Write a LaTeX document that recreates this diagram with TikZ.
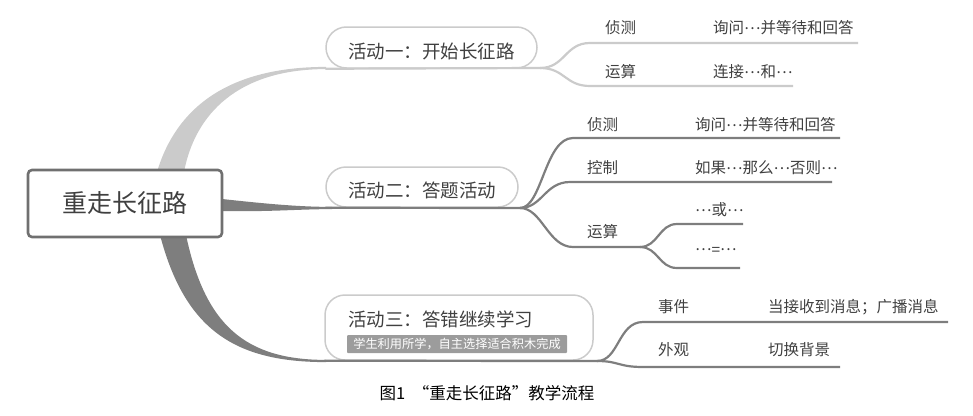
\documentclass[tikz,border=0pt]{standalone}
\usepackage{fontspec}
\setmainfont{Noto Sans CJK SC}
\usetikzlibrary{calc}

\definecolor{txt}{HTML}{404040}
\definecolor{lite}{HTML}{CBCBCB}
\definecolor{dark}{HTML}{7E7E7E}
\definecolor{rootc}{HTML}{707070}
\definecolor{tagc}{HTML}{9C9C9C}

\newcommand\midell{\raisebox{0.3em}{…}}

\tikzset{
  leaf/.style={anchor=west, inner sep=0pt, text=txt, font=\fontsize{15.5}{16}\selectfont},
  act/.style={draw=lite, line width=1.5pt, rounded corners=#1, inner sep=0pt, text=txt,
    text height=23pt, text depth=2pt, font=\fontsize{18.5}{19}\selectfont},
  lbr/.style={draw=lite, line width=2.2pt},
  dbr/.style={draw=dark, line width=2.2pt},
}

\begin{document}
\begin{tikzpicture}[x=1pt,y=-1pt]
\useasboundingbox (0,0) rectangle (973,415);

% main branches
\fill[lite] (157,172) .. controls (176,108) and (228,66.9) .. (326,66.9) -- (326,69.1) .. controls (238,69.1) and (195,114) .. (184,172) -- cycle;
\fill[dark] (222,199) .. controls (268,204) and (300,206.9) .. (332,206.9) -- (332,209.1) .. controls (300,209.1) and (268,212) .. (222,211) -- cycle;
\fill[dark] (160,235) .. controls (185,330) and (235,362.1) .. (326,362.1) -- (326,359.9) .. controls (245,359.9) and (205,325) .. (186,235) -- cycle;

\node[draw=rootc, fill=white, line width=2.6pt, rounded corners=4pt, minimum width=194pt, minimum height=67pt,
  inner sep=0pt, text=txt, font=\fontsize{25}{26}\selectfont] (root) at (125,203.5) {重走长征路};

\node[act=20.5pt, minimum width=211pt, minimum height=41pt] (a1) at (431.5,47.5) {活动一：开始长征路};
\node[act=20pt, minimum width=192pt, minimum height=40pt] (a2) at (422,187) {活动二：答题活动};
\node[act=20pt, minimum width=268pt, minimum height=65pt] (a3) at (459,327.5) {};
\node[anchor=west, inner sep=0pt, text=txt, font=\fontsize{18.5}{19}\selectfont] (a3n) at (348,319) {活动三：答错继续学习};
\node[fill=tagc, text=white, rounded corners=1pt, inner sep=0pt, minimum width=220pt, minimum height=18pt,
  font=\fontsize{12.2}{13}\selectfont] (a3t) at (457,344) {学生利用所学，自主选择适合积木完成};

% junctions
\coordinate (j1) at (540,68);
\coordinate (j2) at (520,208);
\coordinate (j3) at (640,247);
\coordinate (j4) at (597,361);

\draw[lbr] (a1.south west) -- (j1);
\draw[dbr] (a2.south west) -- (j2);
\draw[dbr] (a3.south west) -- (j4);

% activity 1
\node[leaf] (a1d) at (605,28) {侦测};
\node[leaf] (a1dv) at (713,28) {询问\midell 并等待和回答};
\node[leaf] (a1y) at (605,72) {运算};
\node[leaf] (a1yv) at (713,72) {连接\midell 和\midell};
\draw[lbr] (j1) .. controls +(25,0) and +(-25,0) .. (590,43) -- (858,43);
\draw[lbr] (j1) .. controls +(25,0) and +(-25,0) .. (590,86) -- (793,86);

% activity 2
\node[leaf] (a2d) at (587,125) {侦测};
\node[leaf] (a2dv) at (695,125) {询问\midell 并等待和回答};
\node[leaf] (a2k) at (587,168) {控制};
\node[leaf] (a2kv) at (695,168) {如果\midell 那么\midell 否则\midell};
\node[leaf] (a2y) at (587,232) {运算};
\node[leaf] (a2o) at (695,210) {\midell 或\midell};
\node[leaf] (a2e) at (695,251) {\midell =\midell};
\draw[dbr] (j2) .. controls +(22,0) and +(-28,0) .. (573,138) -- (840,138);
\draw[dbr] (j2) .. controls +(22,0) and +(-25,0) .. (570,182) -- (832,182);
\draw[dbr] (j2) .. controls +(22,0) and +(-25,0) .. (573,247) -- (j3);
\draw[dbr] (j3) .. controls +(18,0) and +(-18,0) .. (677,224) -- (743,224);
\draw[dbr] (j3) .. controls +(18,0) and +(-18,0) .. (677,268) -- (740,268);

% activity 3
\node[leaf] (a3e) at (658,307) {事件};
\node[leaf] (a3ev) at (768,307) {当接收到消息；广播消息};
\node[leaf] (a3w) at (658,350) {外观};
\node[leaf] (a3wv) at (768,350) {切换背景};
\draw[dbr] (j4) .. controls +(22,0) and +(-25,0) .. (643,322) -- (948,322);
\draw[dbr] (j4) .. controls +(22,0) and +(-25,0) .. (643,367) -- (840,367);

\node[text=black, font=\fontsize{16.5}{17}\selectfont] (cap) at (487,393) {图1\ \ “重走长征路”教学流程};
\end{tikzpicture}
\end{document}
